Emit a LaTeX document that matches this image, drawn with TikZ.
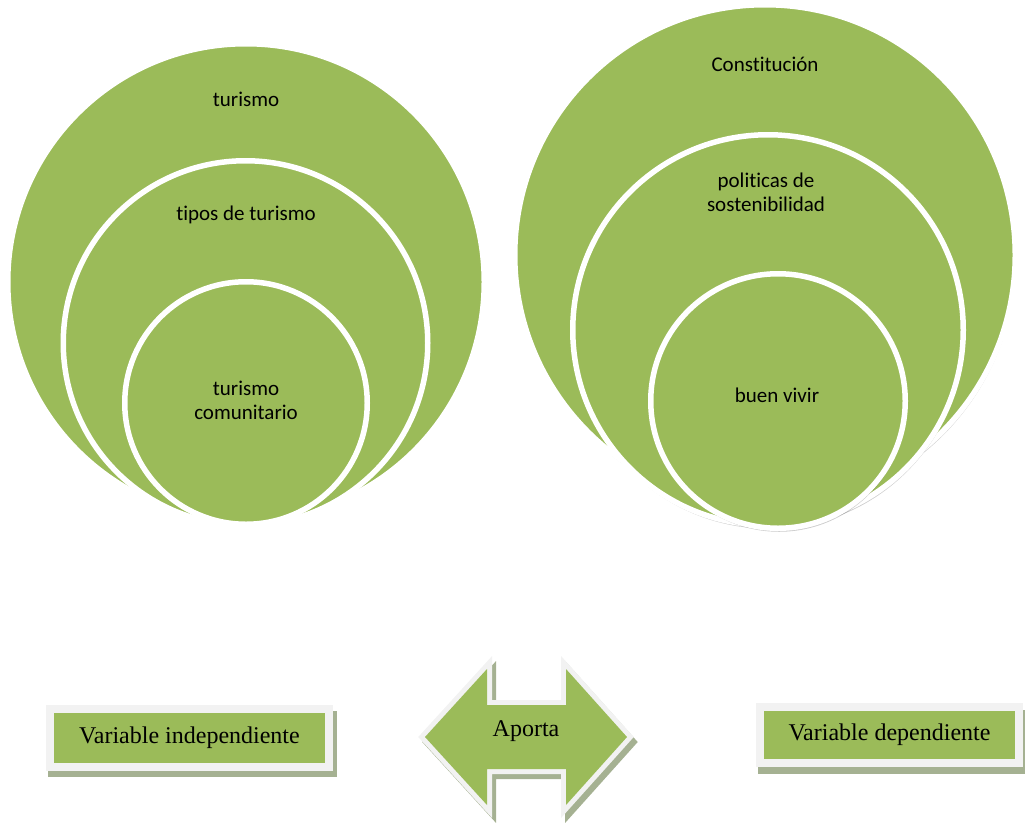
\documentclass[tikz,border=0pt]{standalone}
\usepackage{fontspec}
\setmainfont{Liberation Serif}
\newfontfamily\calibri[RawFeature={-liga;-clig;-calt;-rlig;-dlig}]{Carlito}
\usetikzlibrary{shadows, backgrounds}

\definecolor{verde}{HTML}{9BBB59}
\definecolor{marco}{HTML}{F2F2F2}
\definecolor{sombra}{HTML}{A5B192}

\newcommand{\flecha}{(425,737) -- (487,669) -- (487,705) -- (566,705) -- (566,669) -- (627,737) -- (566,805) -- (566,769) -- (487,769) -- (487,805) -- cycle}

\begin{document}
\begin{tikzpicture}[x = 1pt, y = -1pt,
  circulo/.style = {circle, fill=verde, draw=white, line width=5.5pt, inner sep=0pt},
  sombreado/.style = {drop shadow={shadow xshift=1pt, shadow yshift=-3.5pt, opacity=0.2, fill=black}},
  etiqueta/.style = {font=\calibri\fontsize{21}{24}\selectfont, align=center},
  caja/.style = {rectangle, fill=verde, draw=marco, line width=8pt, inner sep=0pt, font=\fontsize{24}{28}\selectfont}]

\useasboundingbox (0, 0) rectangle (1025, 822);

% variable independiente
\node (tur) at (246, 282) [circulo, minimum size=476.5pt] {};
\node (tipos) at (245.5, 343) [circulo, minimum size=364.5pt] {};
\node (com) at (246, 403) [circulo, minimum size=242.5pt] {};

\node (turT) at (246, 99) [etiqueta] {turismo};
\node (tiposT) at (246, 215) [etiqueta] {tipos de turismo};
\node (comT) at (246, 400) [etiqueta] {turismo\\comunitario};

% variable dependiente
\node (cons) at (765, 255) [circulo, sombreado, minimum size=500.5pt] {};
\node (pol) at (768, 330) [circulo, sombreado, minimum size=390.5pt] {};
\node (buen) at (778, 401) [circulo, sombreado, minimum size=254.5pt] {};

\node (consT) at (765, 64) [etiqueta] {Constitución};
\node (polT) at (766, 192) [etiqueta] {politicas de\\sostenibilidad};
\node (buenT) at (777, 395) [etiqueta] {buen vivir};

% cajas
\node (vi) at (189.5, 738) [caja, minimum width=279pt, minimum height=58pt] {Variable independiente};
\node (vd) at (889.5, 735) [caja, minimum width=259pt, minimum height=56pt] {Variable dependiente};

\begin{scope}[on background layer]
\fill[sombra] ([shift={(2pt,-6pt)}]vi.south west) rectangle ([shift={(4pt,-6pt)}]vi.north east);
\fill[sombra] ([shift={(2pt,-7pt)}]vd.south west) rectangle ([shift={(4pt,-7pt)}]vd.north east);
\end{scope}

% flecha doble
\draw[sombra, fill=sombra, line width=10pt, shift={(4pt,-5pt)}] \flecha;
\draw[marco, line width=10pt] \flecha;
\fill[verde] \flecha;
\node (aporta) at (526, 731) [font=\fontsize{24}{28}\selectfont] {Aporta};

\end{tikzpicture}
\end{document}
